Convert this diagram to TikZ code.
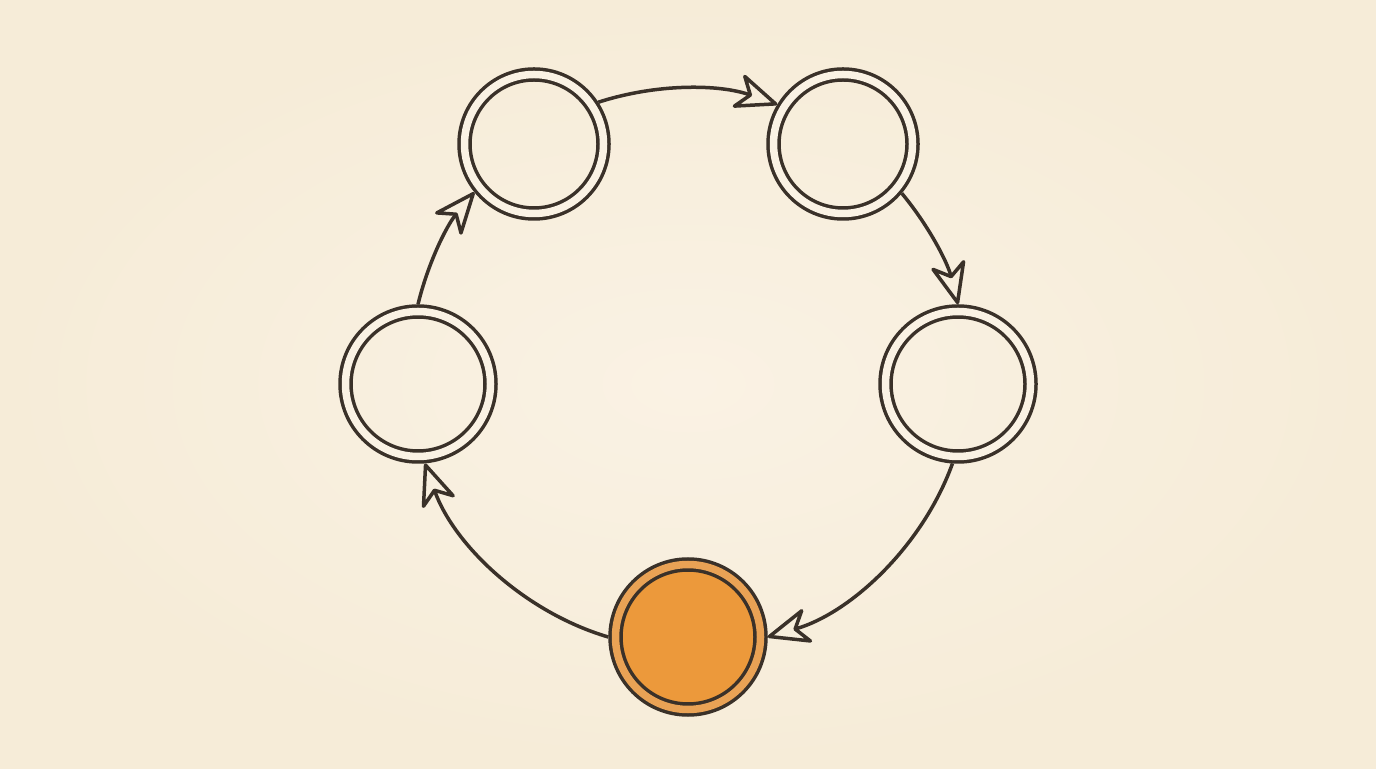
\documentclass[tikz,border=0pt]{standalone}
\usepackage{tikz}
\usetikzlibrary{arrows.meta}
\definecolor{ink}{HTML}{3A3129}
\definecolor{paper}{HTML}{FAF2E4}
\definecolor{paperedge}{HTML}{F6ECD8}
\definecolor{ring}{HTML}{E9A255}
\definecolor{amber}{HTML}{EC993B}
\tikzstyle{state}=[circle, draw=ink, line width=0.07cm, double=paper, double distance=0.15cm, minimum size=2.78cm, inner sep=0pt, outer sep=0.145cm]
\tikzstyle{statebig}=[state, minimum size=2.9cm]
\tikzstyle{stateorange}=[statebig, double=ring, fill=amber]
\tikzstyle{arrow}=[draw=ink, line width=0.07cm, looseness=0.88, ->, >={Stealth[open, round, length=0.95cm, width=0.78cm, inset=0.28cm]}]

\begin{document}
\begin{tikzpicture}
	\shade[inner color=paper, outer color=paperedge] (0,0) rectangle (27.52,15.36);
	\useasboundingbox (0,0) rectangle (27.52,15.36);
	\begin{scope}
		\node (tl) at (10.68, 12.48)[state] {};
		\node (tr) at (16.86, 12.48)[state] {};
		\node (rt) at (19.16, 7.68)[statebig] {};
		\node (bt) at (13.76, 2.62)[stateorange] {};
		\node (lf) at (8.36, 7.68)[statebig] {};
	\end{scope}
	\begin{scope}
		\path (tl.33) edge [arrow, bend left=18.6] (tr.149);
		\path (tr.-40) edge [arrow, bend left=12.8] (rt.90);
		\path (rt.-94) edge [arrow, bend left=27] (bt.0);
		\path (bt.180) edge [arrow, bend left=27] (lf.-85);
		\path (lf.90) edge [arrow, bend left=13] (tl.-141);
	\end{scope}
\end{tikzpicture}
\end{document}
